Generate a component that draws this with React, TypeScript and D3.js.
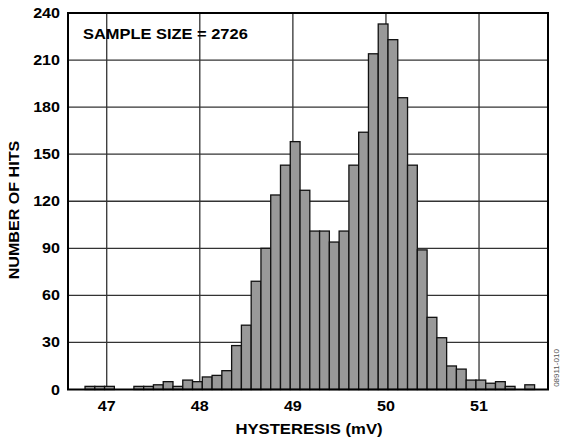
import React, { useRef, useEffect } from 'react';
import * as d3 from 'd3';

// histogram bins: first bin edge and bin width in mV
const BIN_START = 46.767;
const BIN_WIDTH = 0.105;

// hits per bin
const HITS = [
  2, 2, 2, 0, 0, 2, 2, 3, 5, 2, 6, 5, 8, 9, 12, 28, 41, 69, 90, 124, 143, 158, 127, 101, 101, 94,
  101, 143, 164, 214, 233, 223, 186, 143, 89, 46, 33, 15, 13, 6, 6, 4, 5, 2, 0, 3,
];

const X_TICKS = [47, 48, 49, 50, 51];
const Y_TICKS = [0, 30, 60, 90, 120, 150, 180, 210, 240];
const X_DOMAIN = [46.584, 51.741];
const Y_DOMAIN = [0, 240];

const SAMPLE_LABEL = 'SAMPLE SIZE = 2726';
const X_TITLE = 'HYSTERESIS (mV)';
const Y_TITLE = 'NUMBER OF HITS';
const FIG_ID = '08911-010';

const FONT = '"Liberation Sans", Arial, sans-serif';
// the original lettering is a bit wider than Arial
const STRETCH = 1.15;

const HysteresisHistogram: React.FC = () => {
  const svgRef = useRef<SVGSVGElement>(null);

  useEffect(() => {
    if (!svgRef.current) return;

    d3.select(svgRef.current).selectAll('*').remove();

    const width = 561;
    const height = 442;
    const left = 68;
    const right = 548;
    const top = 13;
    const bottom = 389.5;

    const svg = d3.select(svgRef.current).attr('width', width).attr('height', height);

    const x = d3.scaleLinear().domain(X_DOMAIN).range([left, right]);
    const y = d3.scaleLinear().domain(Y_DOMAIN).range([bottom, top]);

    // grid
    const grid = svg.append('g').attr('stroke', '#333').attr('stroke-width', 1.3);
    grid
      .selectAll('line.v')
      .data(X_TICKS)
      .enter()
      .append('line')
      .attr('x1', (d) => x(d))
      .attr('x2', (d) => x(d))
      .attr('y1', top)
      .attr('y2', bottom);
    grid
      .selectAll('line.h')
      .data(Y_TICKS.filter((d) => d > 0 && d < 240))
      .enter()
      .append('line')
      .attr('x1', left)
      .attr('x2', right)
      .attr('y1', (d) => y(d))
      .attr('y2', (d) => y(d));

    // bars
    svg
      .append('g')
      .selectAll('rect')
      .data(HITS.map((v, i) => ({ v, i })).filter((d) => d.v > 0))
      .enter()
      .append('rect')
      .attr('x', (d) => x(BIN_START + d.i * BIN_WIDTH))
      .attr('width', (d) => x(BIN_START + (d.i + 1) * BIN_WIDTH) - x(BIN_START + d.i * BIN_WIDTH))
      .attr('y', (d) => y(d.v))
      .attr('height', (d) => y(0) - y(d.v))
      .attr('fill', '#999')
      .attr('stroke', '#111')
      .attr('stroke-width', 1.3);

    // frame
    svg
      .append('rect')
      .attr('x', left)
      .attr('y', top)
      .attr('width', right - left)
      .attr('height', bottom - top)
      .attr('fill', 'none')
      .attr('stroke', '#000')
      .attr('stroke-width', 2);

    // tick labels
    svg
      .append('g')
      .selectAll('text')
      .data(X_TICKS)
      .enter()
      .append('text')
      .attr('transform', (d) => `translate(${x(d)}, 411) scale(${STRETCH}, 1)`)
      .attr('text-anchor', 'middle')
      .style('font', `bold 14px ${FONT}`)
      .text((d) => d);

    svg
      .append('g')
      .selectAll('text')
      .data(Y_TICKS)
      .enter()
      .append('text')
      .attr('transform', (d) => `translate(60, ${y(d)}) scale(${STRETCH}, 1)`)
      .attr('dy', '0.36em')
      .attr('text-anchor', 'end')
      .style('font', `bold 14px ${FONT}`)
      .text((d) => d);

    // titles
    svg
      .append('text')
      .attr('transform', `translate(309, 434) scale(${STRETCH}, 1)`)
      .attr('text-anchor', 'middle')
      .style('font', `bold 14.5px ${FONT}`)
      .text(X_TITLE);

    svg
      .append('text')
      .attr('transform', `translate(19, 210) rotate(-90) scale(${STRETCH}, 1)`)
      .attr('text-anchor', 'middle')
      .style('font', `bold 14px ${FONT}`)
      .text(Y_TITLE);

    svg
      .append('text')
      .attr('transform', `translate(83, 38.5) scale(${STRETCH}, 1)`)
      .style('font', `bold 14.3px ${FONT}`)
      .text(SAMPLE_LABEL);

    svg
      .append('text')
      .attr('transform', `translate(559, 368) rotate(-90)`)
      .attr('text-anchor', 'middle')
      .attr('fill', '#555')
      .style('font', `8px ${FONT}`)
      .text(FIG_ID);
  }, []);

  return <svg ref={svgRef} style={{ position: 'absolute', left: 0, top: 0, background: '#fff' }} />;
};

export default function App() {
  return <HysteresisHistogram />;
}
